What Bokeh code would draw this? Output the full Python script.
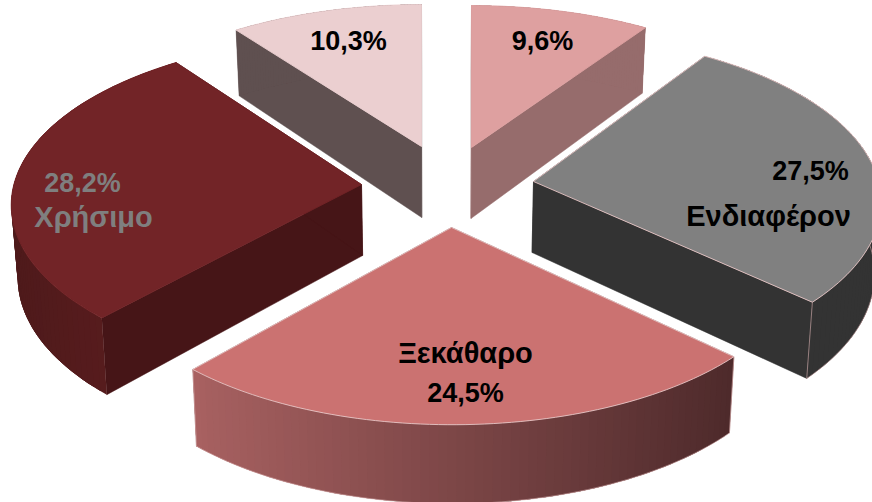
import numpy as np
from bokeh.plotting import figure
from bokeh.models import ColumnDataSource
from bokeh.core.properties import value
from bokeh.embed import file_html
from bokeh.resources import INLINE

# data (clockwise from 12 o'clock)
values = [9.6, 27.5, 24.5, 28.2, 10.3]
percent_labels = ["9,6%", "27,5%", "24,5%", "28,2%", "10,3%"]
name_labels = ["", "Ενδιαφέρον", "Ξεκάθαρο", "Χρήσιμο", ""]

# styles
top_colors = ["#dea0a0", "#808080", "#cb7271", "#722427", "#ebcfd0"]
radial_colors = ["#966c6c", "#333333", "#7a4444", "#461517", "#5f5050"]
outer_left = ["#966c6c", "#333333", "#a86161", "#4e1a1b", "#5f5050"]
outer_right = ["#966c6c", "#333333", "#4e2a2b", "#5e1d1f", "#5f5050"]
edge_colors = ["#dea0a0", "#e6c4c4", "#e6c4c4", "#722427", "#ebcfd0"]
text_colors = ["#000000", "#000000", "#000000", "#7f7f7f", "#000000"]

# layout: slice apex (explosion), arc offset, projection constants, label placement
apex_x = [471, 533, 451, 361, 421]
apex_y = [147, 181, 227, 184, 146]
arc_dx = [0, -2.5, 1, 0, 0]
arc_dy = [0, -5.5, 3, -5.5, 0]
percent_pos = [(542, 40), (810, 170), (465, 392), (82, 182), (348, 40)]
name_pos = [None, (768, 215), (465, 352), (93, 216), None]
RX, RY, K = 346.0, 164.0, 0.1556
DEPTH, KD, CONVERGE, VPX = 71.0, 0.1, 0.015, 436.0

p = figure(width=872, height=502, x_range=(0, 872), y_range=(502, 0),
           toolbar_location=None, output_backend="svg", min_border=0)
p.axis.visible = False
p.grid.visible = False
p.outline_line_color = None
p.background_fill_color = "#ffffff"
p.border_fill_color = "#ffffff"


def project(ax, ay, r, theta):
    u, v = np.sin(theta), np.cos(theta)
    s = 1.0 / (1.0 + K * v * r)
    return ax + RX * r * u * s, ay - RY * r * v * s


def lower(x, y, r, theta):
    d = DEPTH / (1.0 + KD * r * np.cos(theta))
    return x - (x - VPX) * CONVERGE, y + d


def hexmix(a, b, t):
    ca = np.array([int(a[i:i + 2], 16) for i in (1, 3, 5)], float)
    cb = np.array([int(b[i:i + 2], 16) for i in (1, 3, 5)], float)
    c = np.round(ca + (cb - ca) * t).astype(int)
    return "#%02x%02x%02x" % tuple(c)


fractions = np.array(values) / np.sum(values)
stops = np.concatenate([[0], np.cumsum(fractions)]) * 2 * np.pi

# painting order: far slices first, nearest last
for i in [0, 4, 3, 1, 2]:
    a0, a1 = stops[i], stops[i + 1]
    ax, ay = apex_x[i], apex_y[i]
    th = np.linspace(a0, a1, 70)
    x, y = project(ax + arc_dx[i], ay + arc_dy[i], 1.0, th)
    bx, by = lower(x, y, 1.0, th)
    abx, aby = lower(ax, ay, 0.0, 0.0)

    # radial faces
    for j in (0, -1):
        p.patch([ax, x[j], bx[j], abx], [ay, y[j], by[j], aby],
                fill_color=radial_colors[i], line_color=radial_colors[i], line_width=0.5)

    # outer curved face as overlapping shaded strips
    xmin, xmax = x.min(), x.max()
    xs, ys, cols = [], [], []
    for k in range(len(th) - 1):
        e = min(k + 3, len(th) - 1)
        xs.append(list(x[k:e + 1]) + list(bx[k:e + 1][::-1]))
        ys.append(list(y[k:e + 1]) + list(by[k:e + 1][::-1]))
        t = ((x[k] + x[k + 1]) / 2 - xmin) / max(xmax - xmin, 1)
        cols.append(hexmix(outer_left[i], outer_right[i], t))
    p.patches(xs, ys, fill_color=cols, line_color=None)

    # lower rim and edge line on the near slices
    if edge_colors[i] == "#e6c4c4":
        p.line(bx, by, line_color="#d8b0b0", line_width=0.6)
        for j in (0, -1):
            p.line([x[j], bx[j]], [y[j], by[j]], line_color="#d8b0b0", line_width=0.6)

    # top face
    p.patch(np.r_[ax, x], np.r_[ay, y], fill_color=top_colors[i],
            line_color=edge_colors[i], line_width=0.9)

# labels
for pos, labels, size in ((percent_pos, percent_labels, "27px"), (name_pos, name_labels, "29px")):
    tx, ty, tt, tc = [], [], [], []
    for i in range(len(values)):
        if pos[i]:
            tx.append(pos[i][0]); ty.append(pos[i][1])
            tt.append(labels[i]); tc.append(text_colors[i])
    src = ColumnDataSource(dict(x=tx, y=ty, t=tt, c=tc))
    p.text("x", "y", text="t", source=src, text_color="c", text_align="center",
           text_baseline="middle", text_font=value("Liberation Sans"),
           text_font_style="bold", text_font_size=size)

open("out.html", "w").write(file_html(p, INLINE))
